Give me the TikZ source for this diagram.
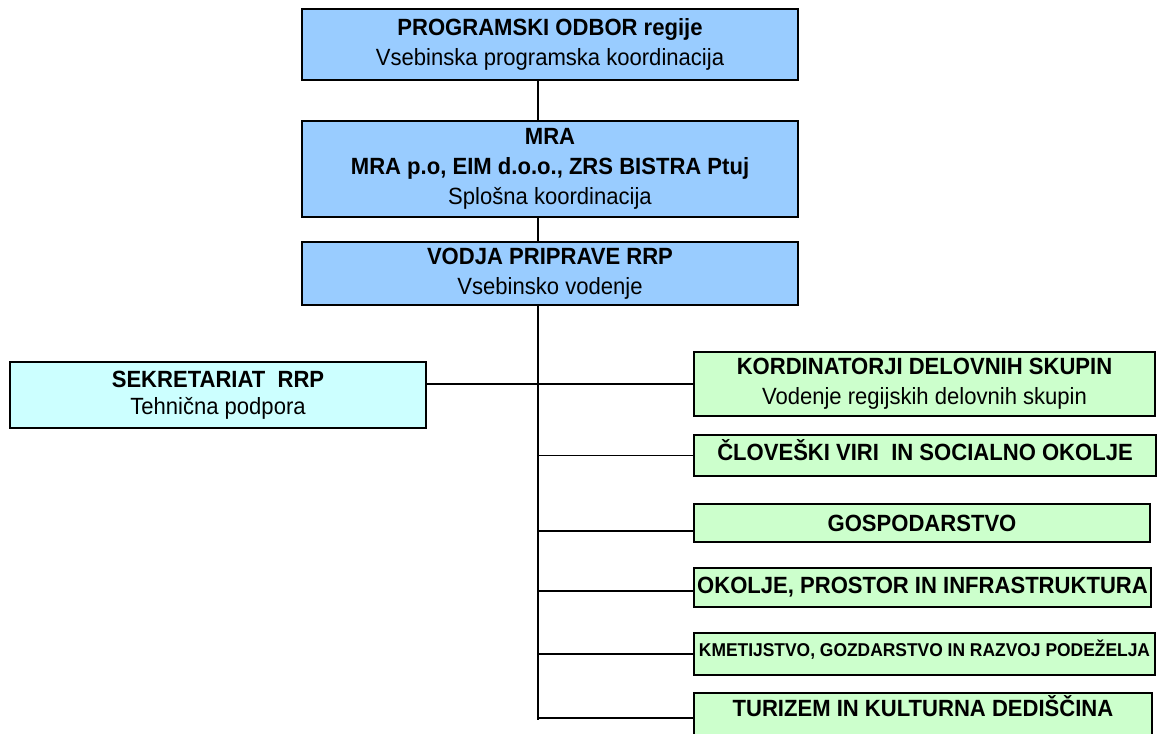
\documentclass[tikz,border=0pt]{standalone}
\usepackage{fontspec}
\setmainfont[FakeStretch=0.94]{Liberation Sans}
\usetikzlibrary{positioning}
\definecolor{modra}{HTML}{99CCFF}
\definecolor{turkizna}{HTML}{CCFFFF}
\definecolor{zelena}{HTML}{CCFFCC}

\begin{document}
\begin{tikzpicture}[x=0.75pt,y=-0.75pt,line width=1.1pt,
                    font=\fontsize{17.6pt}{22.5pt}\selectfont]
      \tikzstyle{blok}=[draw=black,line width=1.3pt,fill=modra,align=center,inner sep=0pt,outer sep=0pt,minimum width=372pt]
      \tikzstyle{skupina}=[blok,fill=zelena,text height=12.6pt,text depth=0pt,
                           font=\fontsize{17.6pt}{22.5pt}\selectfont\bfseries]

      \useasboundingbox (0,0) rectangle (1157,734);
      \clip (0,0) rectangle (1157,734);

      \node[blok]     (odbor) [minimum height=53.25pt] at (550,44.5)   {\textbf{PROGRAMSKI ODBOR regije}\\Vsebinska programska koordinacija};
      \node[blok]     (mra)   [minimum height=72pt]    [below=30.75pt of odbor] {\textbf{MRA}\\\textbf{MRA p.o, EIM d.o.o., ZRS BISTRA Ptuj}\\Splošna koordinacija};
      \node[blok]     (vodja) [minimum height=47.25pt] [below=18.75pt of mra]   {\textbf{VODJA PRIPRAVE RRP}\\Vsebinsko vodenje};
      \node[blok]     (sekr)  [fill=turkizna,minimum width=312pt,minimum height=49.5pt,
                               font=\fontsize{17.6pt}{20pt}\selectfont] at (218,395) {\textbf{SEKRETARIAT~~RRP}\\Tehnična podpora};
      \node[blok]     (kord)  [fill=zelena,minimum width=345.75pt,minimum height=48pt] at (924.5,384) {\textbf{KORDINATORJI DELOVNIH SKUPIN}\\Vodenje regijskih delovnih skupin};
      \node[skupina]  (clov)  [minimum width=346.5pt,minimum height=30.75pt,text depth=5.2pt]
                              [below=14.25pt of kord.south west,anchor=north west] {ČLOVEŠKI VIRI~~IN SOCIALNO OKOLJE};
      \node[skupina]  (gosp)  [minimum width=342pt,minimum height=28.5pt]
                              [below=21pt of clov.south west,anchor=north west]   {GOSPODARSTVO};
      \node[skupina]  (okol)  [minimum width=342.75pt,minimum height=29.25pt,text depth=3.75pt]
                              [below=19.5pt of gosp.south west,anchor=north west] {OKOLJE, PROSTOR IN INFRASTRUKTURA};
      \node[skupina]  (kmet)  [minimum width=345.75pt,minimum height=31.5pt,text height=9.95pt,text depth=6.8pt,
                               font=\fontsize{13.9pt}{15pt}\selectfont\bfseries]
                              [below=19.5pt of okol.south west,anchor=north west] {KMETIJSTVO, GOZDARSTVO IN RAZVOJ PODEŽELJA};
      \node[skupina]  (turi)  [minimum width=343.5pt,minimum height=37.5pt,text depth=15pt]
                              [below=13.5pt of kmet.south west,anchor=north west] {TURIZEM IN KULTURNA DEDIŠČINA};

      \coordinate (spine) at (538,0);
      \coordinate (dno)   at (538,720);
      \coordinate (gospvhod) at ([yshift=-6pt]gosp.west);
      \coordinate (okolvhod) at ([yshift=-2.6pt]okol.west);

      \path (odbor.south -| spine) edge (mra.north -| spine)
            (mra.south -| spine)   edge (vodja.north -| spine)
            (vodja.south -| spine) edge (dno)
            (sekr.east |- kord.west) edge (kord.west)
            (spine |- gospvhod)    edge (gospvhod)
            (spine |- okolvhod)    edge (okolvhod);
      \foreach \s in {clov,kmet,turi}
        \draw (spine |- \s.west) -- (\s.west);
\end{tikzpicture}
\end{document}
